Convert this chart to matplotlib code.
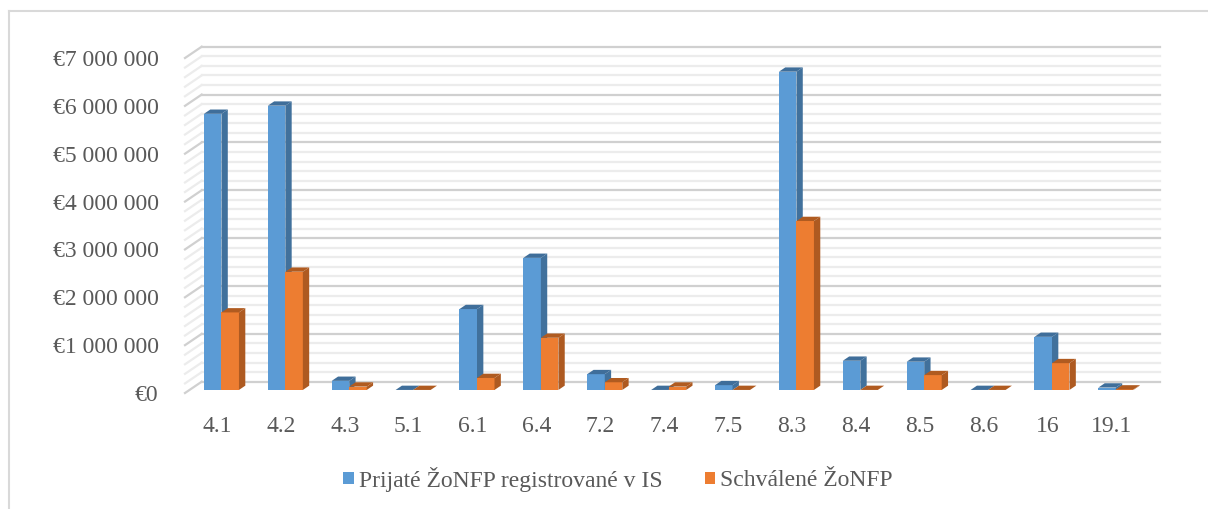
import matplotlib
matplotlib.use("Agg")
import matplotlib.pyplot as plt
from matplotlib.patches import Polygon, Patch
from matplotlib.lines import Line2D

categories = ["4.1", "4.2", "4.3", "5.1", "6.1", "6.4", "7.2", "7.4", "7.5",
              "8.3", "8.4", "8.5", "8.6", "16", "19.1"]
prijate = [5770000, 5940000, 190000, 0, 1690000, 2760000, 330000, 0, 100000,
           6650000, 610000, 590000, 0, 1110000, 50000]
schvalene = [1620000, 2470000, 70000, 0, 250000, 1090000, 160000, 70000, 0,
             3530000, 0, 310000, 0, 560000, 10000]
series_names = ["Prijaté ŽoNFP registrované v IS", "Schválené ŽoNFP"]
y_ticks = [0, 1000000, 2000000, 3000000, 4000000, 5000000, 6000000, 7000000]

W, H = 1208, 509
fig = plt.figure(figsize=(W / 100, H / 100), dpi=100)
plt.rcParams['font.family'] = ['Liberation Serif', 'DejaVu Serif']

# chart area border (only top and left visible)
fig.add_artist(Line2D([8.5 / W, 8.5 / W], [0, 1 - 11 / H], color="#d9d9d9", lw=1.5))
fig.add_artist(Line2D([8.5 / W, 1], [1 - 11 / H, 1 - 11 / H], color="#d9d9d9", lw=1.5))

left_px, right_px = 185, 1143.3
bottom_px, top_px = 393, 58
ax = fig.add_axes([left_px / W, 1 - bottom_px / H, (right_px - left_px) / W,
                   (bottom_px - top_px) / H])
n = len(categories)
ax.set_xlim(-0.5, n - 0.5)
ax.set_ylim(0, 7000000)
for s in ax.spines.values():
    s.set_visible(False)

# depth of the 3D box in data units
DX = 16.7 / ((right_px - left_px) / n)
DY = 11.3 / ((bottom_px - top_px) / 7000000)

# back wall and side wall gridlines
for i in range(0, 36):
    v = i * 200000
    major = (i % 5 == 0)
    col = "#d0d0d0" if major else "#ececec"
    ax.add_line(Line2D([-0.5 + DX, n - 0.5 + DX], [v + DY, v + DY], color=col,
                       lw=1.6, clip_on=False, zorder=1))
    ax.add_line(Line2D([-0.5, -0.5 + DX], [v, v + DY], color=col,
                       lw=1.6, clip_on=False, zorder=1))

# bars with faux-3D faces
f0, f1 = 0.27, 0.65
bx, by = f0 * DX, f0 * DY
dbx, dby = (f1 - f0) * DX, (f1 - f0) * DY
bw = 0.274
colors = [("#5B9BD5", "#41719C", "#3f6e9a"), ("#ED7D31", "#AE5A21", "#b05b20")]
vals = [prijate, schvalene]
for i in range(n):
    for k in range(2):
        v = vals[k][i]
        x0 = i - bw + k * bw + bx
        x1 = x0 + bw
        front, side, top = colors[k]
        z = 3 + i * 0.01 + k * 0.001
        ax.bar([x0], [v], width=bw, bottom=by, align="edge", color=front,
               zorder=z, linewidth=0)
        ax.add_patch(Polygon([(x1, by), (x1 + dbx, by + dby), (x1 + dbx, by + dby + v),
                              (x1, by + v)], closed=True, facecolor=side,
                             edgecolor="none", zorder=z, clip_on=False))
        ax.add_patch(Polygon([(x0, by + v), (x0 + dbx, by + v + dby), (x1 + dbx, by + v + dby),
                              (x1, by + v)], closed=True, facecolor=top,
                             edgecolor="none", zorder=z, clip_on=False))

ax.set_xticks(range(n))
ax.set_xticklabels(categories)
ax.set_yticks(y_ticks)
ax.set_yticklabels(["€" + f"{t:,}".replace(",", " ") for t in y_ticks])
ax.tick_params(axis="both", length=0, labelsize=17, colors="#595959")
ax.tick_params(axis="y", pad=19)
ax.tick_params(axis="x", pad=16.5)

handles = [Patch(facecolor=colors[0][0]), Patch(facecolor=colors[1][0])]
fig.legend(handles, series_names, loc="center", bbox_to_anchor=(618 / W, 1 - 479 / H),
           ncol=2, frameon=False, fontsize=17, handlelength=0.45, handleheight=0.45,
           handletextpad=0.2, columnspacing=1.8, labelcolor="#595959")

fig.savefig("out.png", dpi=100)
